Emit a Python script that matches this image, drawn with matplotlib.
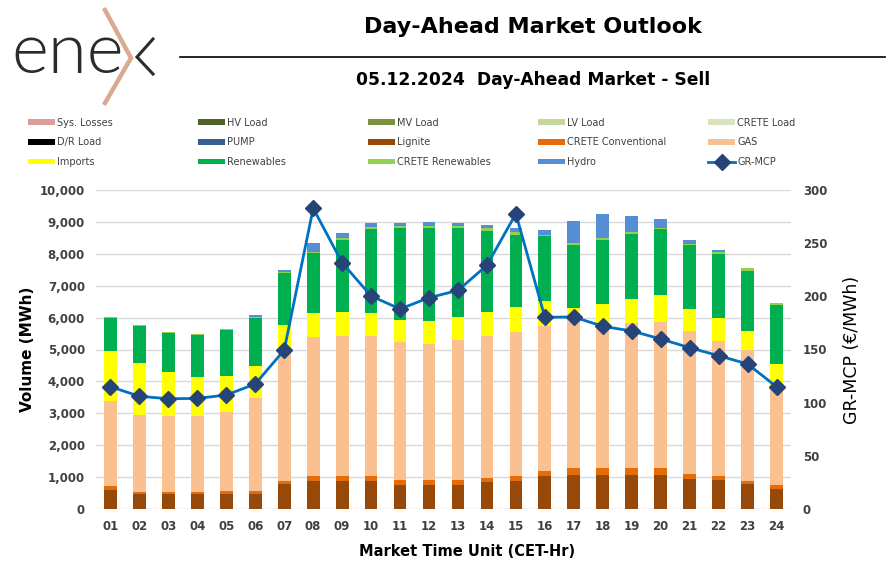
import numpy as np
import matplotlib
matplotlib.use('Agg')
import matplotlib.pyplot as plt
from matplotlib.lines import Line2D
from matplotlib.ticker import FuncFormatter

# Market time units
hours = ['01', '02', '03', '04', '05', '06', '07', '08', '09', '10', '11', '12',
         '13', '14', '15', '16', '17', '18', '19', '20', '21', '22', '23', '24']

# Volumes (MWh) per source
sys_losses = [0] * 24
hv_load = [0] * 24
mv_load = [0] * 24
lv_load = [0] * 24
crete_load = [0] * 24
dr_load = [0] * 24
pump = [0] * 24
lignite = [600, 470, 470, 470, 470, 470, 784, 888, 888, 888, 763, 763,
           763, 836, 888, 1045, 1066, 1076, 1066, 1066, 940, 899, 773, 627]
crete_conv = [110, 52, 52, 52, 84, 84, 104, 157, 157, 157, 136, 136,
              136, 146, 136, 146, 209, 209, 209, 209, 168, 146, 115, 115]
gas = [2686, 2425, 2383, 2404, 2476, 2926, 4128, 4336, 4389, 4368, 4326, 4263,
       4388, 4452, 4535, 4535, 4754, 4535, 4545, 4587, 4482, 4221, 4107, 3103]
imports = [1557, 1630, 1379, 1212, 1150, 1013, 752, 753, 731, 721, 710, 742,
           721, 731, 784, 805, 282, 606, 763, 857, 669, 732, 575, 700]
renewables = [1034, 1149, 1223, 1317, 1431, 1494, 1630, 1891, 2278, 2643, 2863, 2894,
              2790, 2560, 2257, 2017, 1975, 2007, 2038, 2048, 2017, 1996, 1880, 1840]
crete_ren = [32, 31, 31, 31, 32, 32, 42, 42, 42, 74, 74, 74,
             74, 73, 73, 52, 42, 52, 52, 42, 42, 52, 105, 83]
hydro = [0, 0, 0, 0, 0, 52, 42, 272, 167, 104, 104, 114,
         94, 94, 146, 157, 690, 752, 512, 282, 125, 84, 0, 0]

# Market clearing price (EUR/MWh)
gr_mcp = [115.0, 106.0, 103.7, 104.0, 107.2, 117.6, 149.5, 282.8, 231.6, 200.3, 188.1, 198.7,
          205.6, 229.2, 277.7, 180.3, 180.6, 171.8, 167.4, 159.9, 151.7, 144.2, 136.4, 115.0]

series = [
    ('Sys. Losses', sys_losses, '#DC9C9C'),
    ('HV Load', hv_load, '#4F6228'),
    ('MV Load', mv_load, '#77933C'),
    ('LV Load', lv_load, '#C3D69B'),
    ('CRETE Load', crete_load, '#D7E4BD'),
    ('D/R Load', dr_load, '#000000'),
    ('PUMP', pump, '#376092'),
    ('Lignite', lignite, '#984807'),
    ('CRETE Conventional', crete_conv, '#E46C0A'),
    ('GAS', gas, '#FAC090'),
    ('Imports', imports, '#FFFF00'),
    ('Renewables', renewables, '#00B050'),
    ('CRETE Renewables', crete_ren, '#92D050'),
    ('Hydro', hydro, '#558ED5'),
]

W, H = 895, 578
fig = plt.figure(figsize=(W / 100, H / 100), dpi=100)
ax = fig.add_axes([96 / W, 1 - 509 / H, (791 - 96) / W, (509 - 190) / H])

x = np.arange(1, 25)
bottom = np.zeros(24)
handles = []
for name, vals, col in series:
    vals = np.array(vals, dtype=float)
    b = ax.bar(x, vals, 0.44, bottom=bottom, color=col, label=name, zorder=2)
    bottom += vals
    handles.append(b)

ax.set_xlim(0.5, 24.5)
ax.set_ylim(0, 10000)
ax.set_yticks(np.arange(0, 10001, 1000))
ax.yaxis.set_major_formatter(FuncFormatter(lambda v, p: f'{int(v):,}'))
ax.set_xticks(x)
ax.set_xticklabels(hours)
ax.grid(axis='y', color='#D9D9D9', lw=1, zorder=0)
ax.set_axisbelow(True)
for s in ax.spines.values():
    s.set_visible(False)
ax.tick_params(axis='both', length=0, labelsize=8.5, labelcolor='#404040')
ax.tick_params(axis='y', pad=8)
ax.tick_params(axis='x', pad=8)
for lab in ax.get_xticklabels() + ax.get_yticklabels():
    lab.set_fontweight('bold')
ax.set_ylabel('Volume (MWh)', fontsize=11, fontweight='bold', va='center')
ax.yaxis.set_label_coords((28 - 96) / 695, 0.5)
ax.set_xlabel('Market Time Unit (CET-Hr)', fontsize=10.5, fontweight='bold', va='center')
ax.xaxis.set_label_coords((467 - 96) / 695, -(551 - 509) / 319)

ax2 = ax.twinx()
ln, = ax2.plot(x, gr_mcp, color='#0070C0', lw=2, marker='D', markersize=8,
               markerfacecolor='#264478', markeredgecolor='#264478', label='GR-MCP', zorder=3)
ax2.set_ylim(0, 300)
ax2.set_yticks(np.arange(0, 301, 50))
for s in ax2.spines.values():
    s.set_visible(False)
ax2.tick_params(axis='y', length=0, labelsize=8.5, labelcolor='#404040', pad=8.5)
for lab in ax2.get_yticklabels():
    lab.set_fontweight('bold')
ax2.set_ylabel('GR-MCP (€/MWh)', fontsize=12.5, va='center')
ax2.yaxis.set_label_coords((852 - 96) / 695, 0.5)
handles.append(ln)

# legend laid out row by row, one legend per column
col_x = [28, 198, 368, 538, 708]
for c in range(5):
    hs = handles[c::5]
    fig.legend(hs, [h.get_label() for h in hs], loc='upper left',
               bbox_to_anchor=(col_x[c] / W, 1 - 117.5 / H), frameon=False,
               fontsize=7, labelcolor='#404040', handlelength=2.8, handleheight=0.5,
               handletextpad=0.2, labelspacing=1.0, borderpad=0, borderaxespad=0)

# header
fig.text(533 / W, 1 - 27 / H, 'Day-Ahead Market Outlook', ha='center', va='center',
         fontsize=16, fontweight='bold')
fig.text(533 / W, 1 - 80 / H, '05.12.2024  Day-Ahead Market - Sell', ha='center', va='center',
         fontsize=12.3, fontweight='bold')
fig.add_artist(Line2D([180 / W, 885 / W], [1 - 57 / H, 1 - 57 / H], color='black', lw=1.2))

# logo
fig.text(11 / W, 1 - 73 / H, 'ene', fontsize=51, family='Lato', fontweight=300,
         color='#2b2b2b', va='baseline', ha='left')
fig.add_artist(Line2D([105 / W, 131 / W, 105 / W], [1 - 10 / H, 1 - 58 / H, 1 - 103 / H],
                      color='#D8AA90', lw=3.2, solid_joinstyle='miter'))
fig.add_artist(Line2D([153 / W, 137 / W, 153 / W], [1 - 39 / H, 1 - 57 / H, 1 - 74 / H],
                      color='#2b2b2b', lw=2.2, solid_joinstyle='miter'))

fig.savefig('out.png', dpi=100)
